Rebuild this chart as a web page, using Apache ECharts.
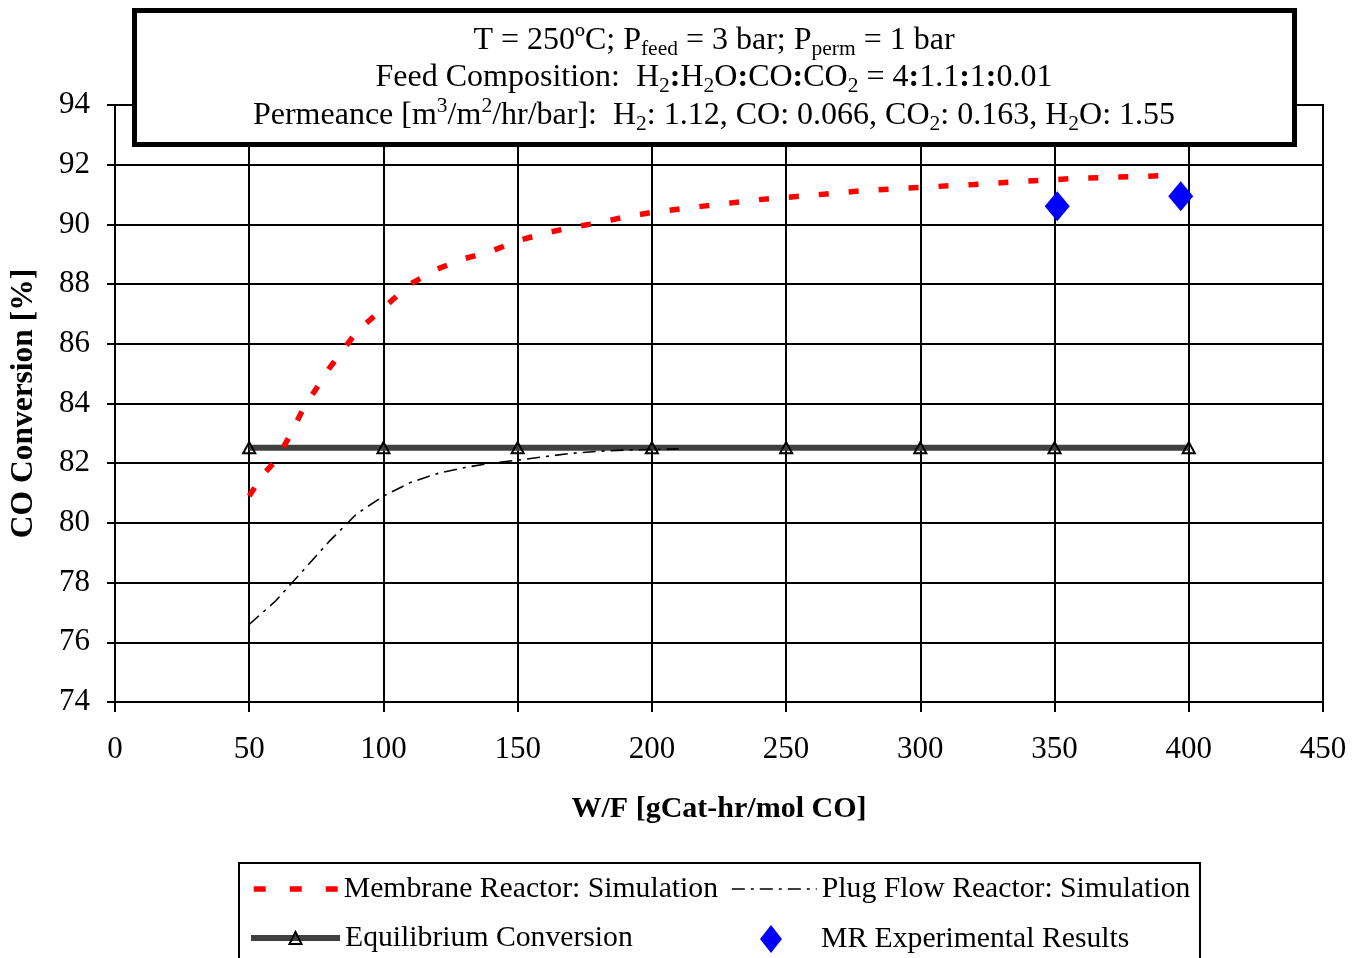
<!DOCTYPE html>
<html>
<head>
<meta charset="utf-8">
<script src="https://cdn.jsdelivr.net/npm/echarts@6/dist/echarts.min.js"></script>
<style>html,body{margin:0;padding:0;background:#fff}#c{width:1364px;height:958px}</style>
</head>
<body>
<div id="c"></div>
<script>
const xTicks = [0, 50, 100, 150, 200, 250, 300, 350, 400, 450];
const yTicks = [74, 76, 78, 80, 82, 84, 86, 88, 90, 92, 94];

const mrSimX = [50, 55, 60, 65, 70, 75, 80, 90, 100, 110, 120, 130, 140, 150, 160, 170, 180, 190, 200, 220, 240, 260, 280, 300, 320, 340, 360, 380, 396];
const mrSimY = [80.9, 81.6, 82.1, 82.9, 83.8, 84.5, 85.2, 86.4, 87.2, 88.0, 88.5, 88.85, 89.1, 89.45, 89.7, 89.9, 90.05, 90.25, 90.4, 90.62, 90.83, 90.98, 91.14, 91.24, 91.34, 91.45, 91.55, 91.6, 91.65];

const pfrX = [50, 55, 60, 65, 70, 75, 80, 90, 100, 110, 120, 130, 140, 150, 160, 170, 180, 190, 200, 210];
const pfrY = [76.6, 77.0, 77.4, 77.9, 78.4, 78.9, 79.4, 80.3, 80.9, 81.35, 81.65, 81.85, 82.0, 82.1, 82.22, 82.33, 82.4, 82.44, 82.46, 82.48];

const eqX = [50, 100, 150, 200, 250, 300, 350, 400];
const eqY = [82.52, 82.52, 82.52, 82.52, 82.52, 82.52, 82.52, 82.52];

const expX = [351, 397];
const expY = [90.61, 90.94];

const names = ['Membrane Reactor: Simulation', 'Plug Flow Reactor: Simulation', 'Equilibrium Conversion', 'MR Experimental Results'];

const pair = (xs, ys) => xs.map((x, i) => [x, ys[i]]);
const FONT = '"Liberation Serif", "Times New Roman", serif';

const chart = echarts.init(document.getElementById('c'), null, {renderer: 'canvas'});

const legendText = {fontFamily: FONT, fontSize: 29.7, color: '#000'};
const legendBase = {
  orient: 'horizontal',
  padding: 0,
  textStyle: legendText,
  lineStyle: {width: 'inherit', type: 'inherit'},
  selectedMode: false
};
const hideSym = {color: 'rgba(0,0,0,0)', borderColor: 'rgba(0,0,0,0)', borderWidth: 0, opacity: 0};

const TS = 32;
const base = {fontFamily: FONT, fontSize: TS, color: '#000'};
const sub = {fontFamily: FONT, fontSize: 21.5, color: '#000', padding: [16, 0, 0, 0]};
const sup = {fontFamily: FONT, fontSize: 21.5, color: '#000', padding: [0, 0, 20, 0]};
const bcol = {fontFamily: FONT, fontSize: TS, color: '#000', fontWeight: 'bold'};

function titleLine(text, y) {
  return {
    type: 'text', z: 101, x: 714, y: y,
    style: {
      text: text, x: 0, y: 0, align: 'center', verticalAlign: 'middle',
      font: TS + 'px "Liberation Serif"', fill: '#000',
      rich: {n: base, s: sub, u: sup, b: bcol}
    }
  };
}

const option = {
  backgroundColor: '#fff',
  animation: false,
  grid: {left: 115, right: 41, top: 105, bottom: 256, show: true, borderColor: '#000', borderWidth: 2, backgroundColor: 'transparent'},
  xAxis: {
    type: 'value', min: 0, max: 450, interval: 50,
    name: 'W/F [gCat-hr/mol CO]', nameLocation: 'middle', nameGap: 92,
    nameTextStyle: {fontFamily: FONT, fontSize: 30, fontWeight: 'bold', color: '#000'},
    axisLine: {show: true, lineStyle: {color: '#000', width: 2}},
    axisTick: {show: true, length: 10, lineStyle: {color: '#000', width: 2}},
    axisLabel: {fontFamily: FONT, fontSize: 31, color: '#000', margin: 32,
      formatter: v => xTicks.includes(v) ? String(v) : ''},
    splitLine: {show: true, lineStyle: {color: '#000', width: 2}}
  },
  yAxis: {
    type: 'value', min: 74, max: 94, interval: 2,
    name: 'CO Conversion [%]', nameLocation: 'middle', nameGap: 75, nameRotate: 90,
    nameTextStyle: {fontFamily: FONT, fontSize: 31.5, fontWeight: 'bold', color: '#000'},
    axisLine: {show: true, lineStyle: {color: '#000', width: 2}},
    axisTick: {show: true, length: 8, lineStyle: {color: '#000', width: 2}},
    axisLabel: {fontFamily: FONT, fontSize: 31, color: '#000', margin: 25,
      formatter: v => yTicks.includes(v) ? String(v) : ''},
    splitLine: {show: true, lineStyle: {color: '#000', width: 2}}
  },
  legend: [
    Object.assign({}, legendBase, {data: [names[0]], left: 251, top: 874, itemWidth: 85, itemHeight: 26, itemStyle: hideSym,
      lineStyle: {width: 'inherit', type: [12, 24]}}),
    Object.assign({}, legendBase, {data: [names[1]], left: 731, top: 874, itemWidth: 85, itemHeight: 26, itemStyle: hideSym}),
    Object.assign({}, legendBase, {data: [names[2]], left: 248, top: 923, itemWidth: 89, itemHeight: 15}),
    Object.assign({}, legendBase, {data: [names[3]], left: 760, top: 924, itemWidth: 22, itemHeight: 28,
      icon: 'diamond', symbolKeepAspect: false,
      textStyle: Object.assign({}, legendText, {padding: [0, 0, 0, 34]})})
  ],
  graphic: [
    {type: 'rect', z: 100, shape: {x: 134.5, y: 10.5, width: 1160, height: 134},
      style: {fill: '#fff', stroke: '#000', lineWidth: 5}},
    titleLine('{n|T = 250ºC; P}{s|feed}{n| = 3 bar; P}{s|perm}{n| = 1 bar}', 41),
    titleLine('{n|Feed Composition:  H}{s|2}{b|:}{n|H}{s|2}{n|O}{b|:}{n|CO}{b|:}{n|CO}{s|2}{n| = 4}{b|:}{n|1.1}{b|:}{n|1}{b|:}{n|0.01}', 78),
    titleLine('{n|Permeance [m}{u|3}{n|/m}{u|2}{n|/hr/bar]:  H}{s|2}{n|: 1.12, CO: 0.066, CO}{s|2}{n|: 0.163, H}{s|2}{n|O: 1.55}', 116),
    {type: 'rect', z: 100, shape: {x: 239, y: 863, width: 961, height: 120},
      style: {fill: 'transparent', stroke: '#000', lineWidth: 2}}
  ],
  series: [
    {
      name: names[2], type: 'line', z: 3,
      data: pair(eqX, eqY),
      symbol: 'triangle', symbolSize: [12, 11], showSymbol: true,
      lineStyle: {color: '#404040', width: 6},
      itemStyle: {color: 'rgba(255,255,255,0)', borderColor: '#000', borderWidth: 2}
    },
    {
      name: names[1], type: 'line', z: 4,
      data: pair(pfrX, pfrY),
      symbol: 'none',
      lineStyle: {color: '#000', width: 1.6, type: [13, 6, 3, 6]},
      itemStyle: {color: '#000'}
    },
    {
      name: names[0], type: 'line', z: 5,
      data: pair(mrSimX, mrSimY),
      symbol: 'none',
      lineStyle: {color: '#ff0000', width: 5.5, type: [10, 20]},
      itemStyle: {color: '#ff0000'}
    },
    {
      name: names[3], type: 'scatter', z: 6,
      data: pair(expX, expY),
      symbol: 'diamond', symbolSize: [25, 30],
      itemStyle: {color: '#0000ff', opacity: 1}
    }
  ]
};
chart.setOption(option);
</script>
</body>
</html>
